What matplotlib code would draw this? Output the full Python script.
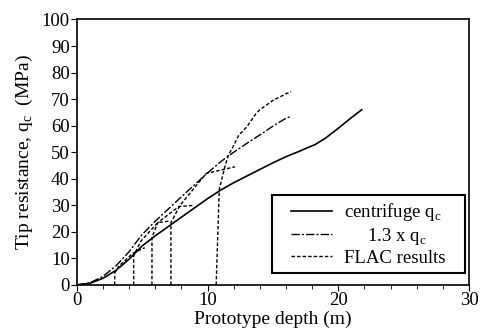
import matplotlib
matplotlib.use("Agg")
import matplotlib.pyplot as plt
from matplotlib.patches import Rectangle
from matplotlib.ticker import MultipleLocator

plt.rcParams["font.family"] = ["Liberation Serif", "DejaVu Serif"]
plt.rcParams["mathtext.fontset"] = "custom"
plt.rcParams["mathtext.rm"] = "Liberation Serif"

# centrifuge q_c (solid)
depth_qc = [0, 1, 2, 3, 4, 4.5, 5, 6, 7, 8, 9, 10, 11, 12, 13, 14, 15, 16,
            17, 17.6, 18.2, 19, 20, 21, 21.8]
qc = [0, 0.6, 2.5, 5.5, 9.7, 12.2, 14.7, 18.5, 22, 25.5, 29, 32.5, 35.7, 38.5,
      41, 43.5, 46, 48.3, 50.3, 51.6, 52.8, 55.2, 59, 63, 66]

# 1.3 x q_c (dash-dot)
depth_13 = [0, 1, 2, 3, 4, 4.5, 5, 6, 7, 8, 9, 10, 11, 12, 13, 14, 15, 16, 16.3]
qc_13 = [0, 0.8, 3.2, 7.2, 12.5, 15.8, 19.0, 24.0, 28.6, 33.2, 37.7, 42.2,
         46.4, 50, 53.3, 56.5, 59.8, 62.8, 63.3]

# FLAC results (dotted), one run per start depth
flac_x = [
    [2.9, 2.9, 3.2, 4.3, 5.2],
    [4.35, 4.35, 4.9, 6.2, 7.0],
    [5.75, 5.75, 6.2, 7.8, 9.0],
    [7.2, 7.2, 7.9, 9.9, 12.1],
    [10.66, 10.9, 11.3, 11.6, 11.9, 12.4, 13.0, 13.7, 14.0, 15.0, 16.0, 16.4],
]
flac_y = [
    [0, 4.5, 7.0, 12.0, 14.0],
    [0, 11.0, 16.5, 23.5, 24.0],
    [0, 18.0, 23.5, 29.5, 30.0],
    [0, 23.5, 30.0, 42.0, 44.5],
    [0, 36.0, 44.0, 49.0, 51.5, 56.5, 59.5, 64.5, 66.0, 69.5, 72.0, 72.8],
]

fig = plt.figure(figsize=(4.8, 3.36), dpi=100)
ax = fig.add_axes([0.16, 0.152, 0.817, 0.79])

ax.plot(depth_qc, qc, color="black", lw=1.2, label="centrifuge q$_{\\mathrm{c}}$")
ax.plot(depth_13, qc_13, color="black", lw=1.0, dashes=(6, 1.5, 1.5, 1.5),
        label="     1.3 x q$_{\\mathrm{c}}$")
for i, (xs, ys) in enumerate(zip(flac_x, flac_y)):
    ax.plot(xs, ys, color="black", lw=1.0, dashes=(2.5, 1.5),
            label="FLAC results" if i == 0 else None)

ax.set_xlim(0, 30)
ax.set_ylim(0, 100)
ax.xaxis.set_major_locator(MultipleLocator(10))
ax.xaxis.set_minor_locator(MultipleLocator(2))
ax.yaxis.set_major_locator(MultipleLocator(10))
ax.tick_params(which="both", direction="out", labelsize=13.5, pad=1)
ax.tick_params(which="major", length=4)
ax.tick_params(which="minor", length=3)
for s in ax.spines.values():
    s.set_linewidth(1.2)

ax.set_xlabel("Prototype depth (m)", fontsize=14, labelpad=1)
ax.set_ylabel("Tip resistance, q$_{\\mathrm{c}}$  (MPa)", fontsize=14, labelpad=5)

# legend box drawn by hand, entries centred inside it
box = (0.497, 0.045, 0.493, 0.293)
ax.add_patch(Rectangle(box[:2], box[2], box[3], transform=ax.transAxes,
                       facecolor="white", edgecolor="black", lw=1.5, zorder=4))
leg = ax.legend(loc="center", bbox_to_anchor=box, fontsize=13.5,
                frameon=False, handlelength=2.2, borderpad=0,
                labelspacing=0.15, handletextpad=0.65, borderaxespad=0)
leg.set_zorder(5)

fig.savefig("out.png", dpi=100)
